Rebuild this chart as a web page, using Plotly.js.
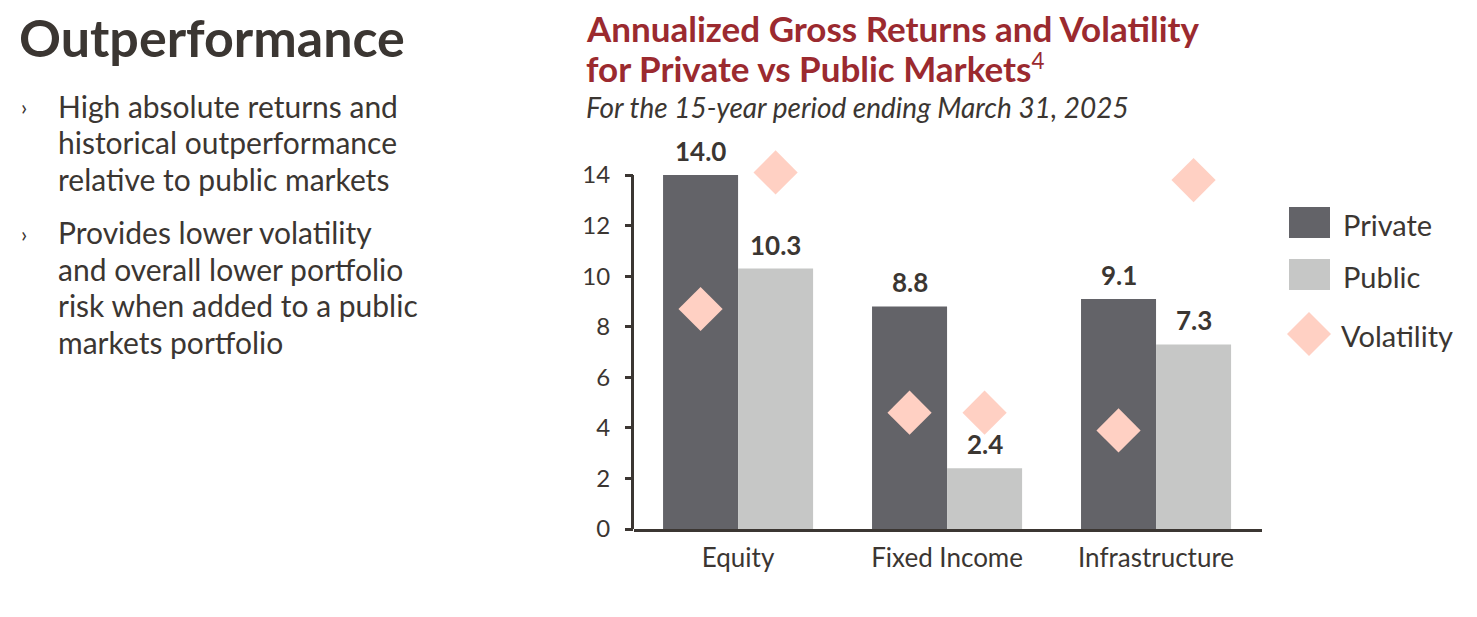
<!DOCTYPE html>
<html>
<head>
<meta charset="utf-8">
<script src="https://cdn.plot.ly/plotly-3.0.1.min.js"></script>
<style>
  html, body { margin: 0; padding: 0; background: #ffffff; }
  #chart { width: 1477px; height: 617px; }
</style>
</head>
<body>
<div id="chart"></div>
<script>
// ---- Data ----
const categories = ['Equity', 'Fixed Income', 'Infrastructure'];
const privateReturns = [14.0, 8.8, 9.1];
const publicReturns = [10.3, 2.4, 7.3];
const privateVolatility = [8.7, 4.6, 3.9];
const publicVolatility = [14.1, 4.6, 13.8];
const yTicks = [0, 2, 4, 6, 8, 10, 12, 14];
const seriesNames = ['Private', 'Public', 'Volatility'];

const pageTitle = 'Outperformance';
const bulletLines = [
  ['High absolute returns and', 'historical outperformance', 'relative to public markets'],
  ['Provides lower volatility', 'and overall lower portfolio', 'risk when added to a public', 'markets portfolio']
];
const chartTitle1 = 'Annualized Gross Returns and Volatility';
const chartTitle2 = 'for Private vs Public Markets<span style="font-size:32px; font-weight:normal;"><sup>4</sup></span>';
const chartSubtitle = '<i>For the 15-year period ending March 31, 2025</i>';

// ---- Style ----
const W = 1477, H = 617;
const M = { l: 634, r: 215, t: 162, b: 88 };
const PW = W - M.l - M.r, PH = H - M.t - M.b;
const px = x => (x - M.l) / PW;
const py = y => (H - M.b - y) / PH;
const yMax = 14;                        // top of drawn axis line
const yRangeTop = PH / ((H - M.b - 175) / yMax); // keeps 14 at y=175px

const cPrivate = '#636368';
const cPublic = '#c6c7c6';
const cVol = '#ffd0c3';
const cText = '#3b3632';
const cTitle = '#9b2a2f';
const FONT = 'Lato, "Open Sans", sans-serif';
const halfBar = 37.5;

const traces = [
  {
    type: 'bar', name: seriesNames[0], x: categories, y: privateReturns,
    offsetgroup: 'p', marker: { color: cPrivate, line: { width: 0 } },
    showlegend: false, hoverinfo: 'skip'
  },
  {
    type: 'bar', name: seriesNames[1], x: categories, y: publicReturns,
    offsetgroup: 'q', marker: { color: cPublic, line: { width: 0 } },
    showlegend: false, hoverinfo: 'skip'
  },
  {
    type: 'scatter', mode: 'markers', name: seriesNames[2], x: categories, y: privateVolatility,
    offsetgroup: 'p', cliponaxis: false,
    marker: { symbol: 'diamond', size: 34, color: cVol, line: { width: 0 } },
    showlegend: false, hoverinfo: 'skip'
  },
  {
    type: 'scatter', mode: 'markers', name: seriesNames[2], x: categories, y: publicVolatility,
    offsetgroup: 'q', cliponaxis: false,
    marker: { symbol: 'diamond', size: 34, color: cVol, line: { width: 0 } },
    showlegend: false, hoverinfo: 'skip'
  }
];

const annotations = [];
const shapes = [];

// Bar value labels
categories.forEach((c, i) => {
  [[privateReturns, -halfBar], [publicReturns, halfBar]].forEach(([arr, xs]) => {
    annotations.push({
      text: arr[i].toFixed(1), xref: 'x', yref: 'y', x: c, y: arr[i],
      xshift: xs, yshift: 6, xanchor: 'center', yanchor: 'bottom', showarrow: false,
      font: { family: FONT, size: 26, color: cText, weight: 'bold' }
    });
  });
});

function addText(text, x, y, size, opts) {
  annotations.push(Object.assign({
    text: text, xref: 'paper', yref: 'paper', x: px(x), y: py(y),
    xanchor: 'left', yanchor: 'middle', showarrow: false,
    font: { family: FONT, size: size, color: cText }
  }, opts || {}));
}

// Left panel
addText(pageTitle, 17, 37, 52, { font: { family: FONT, size: 52, color: cText, weight: 'bold' } });
const bulletStarts = [106, 232];
bulletLines.forEach((lines, bi) => {
  addText('›', 19, bulletStarts[bi] + 1, 22);
  lines.forEach((ln, li) => addText(ln, 56, bulletStarts[bi] + li * 36.5, 30));
});

// Chart titles
addText(chartTitle1, 584, 28, 35, { font: { family: FONT, size: 35, color: cTitle, weight: 'bold' } });
addText(chartTitle2, 584, 68, 35, { font: { family: FONT, size: 35, color: cTitle, weight: 'bold' } });
addText(chartSubtitle, 584, 107, 28);

// Custom legend
shapes.push({ type: 'rect', xref: 'paper', yref: 'paper', x0: px(1289), x1: px(1330), y0: py(238), y1: py(207), fillcolor: cPrivate, line: { width: 0 } });
shapes.push({ type: 'rect', xref: 'paper', yref: 'paper', x0: px(1289), x1: px(1330), y0: py(290), y1: py(259), fillcolor: cPublic, line: { width: 0 } });
shapes.push({ type: 'path', xref: 'paper', yref: 'paper',
  path: `M ${px(1309)} ${py(312)} L ${px(1331)} ${py(334)} L ${px(1309)} ${py(356)} L ${px(1287)} ${py(334)} Z`,
  fillcolor: cVol, line: { width: 0 } });
addText(seriesNames[0], 1341, 224, 29);
addText(seriesNames[1], 1341, 276, 29);
addText(seriesNames[2], 1339, 335, 29);

// Y axis line from 0 to 14 only
shapes.push({ type: 'line', xref: 'paper', yref: 'y', x0: px(632.5), x1: px(632.5), y0: 0, y1: yMax,
  line: { color: cText, width: 3 } });

const layout = {
  width: W, height: H,
  margin: M,
  paper_bgcolor: '#ffffff', plot_bgcolor: '#ffffff',
  barmode: 'group', bargap: 0.282, bargroupgap: 0,
  scattermode: 'group', scattergap: 0.282,
  showlegend: false,
  font: { family: FONT, color: cText },
  xaxis: {
    type: 'category', range: [-0.498, 2.507], fixedrange: true,
    showline: true, linecolor: cText, linewidth: 3,
    ticks: '', showgrid: false, zeroline: false,
    tickfont: { family: FONT, size: 26, color: cText },
    ticklabelstandoff: 4
  },
  yaxis: {
    range: [0, yRangeTop], tickvals: yTicks, fixedrange: true,
    showline: false,
    ticks: 'outside', ticklen: 8, tickwidth: 3, tickcolor: cText,
    showgrid: false, zeroline: false,
    tickfont: { family: FONT, size: 24, color: cText },
    ticklabelstandoff: 10
  },
  annotations: annotations,
  shapes: shapes
};

Plotly.newPlot('chart', traces, layout, { displayModeBar: false, staticPlot: true });
</script>
</body>
</html>
